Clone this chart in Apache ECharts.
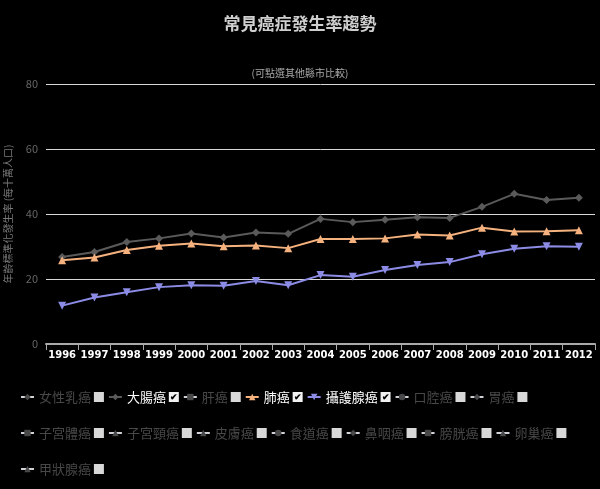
<!DOCTYPE html>
<html>
<head>
<meta charset="utf-8">
<script src="https://cdn.jsdelivr.net/npm/echarts@6/dist/echarts.min.js"></script>
<style>
html,body{margin:0;padding:0;background:#000;}
#chart{width:600px;height:489px;}
</style>
</head>
<body>
<div id="chart"></div>
<script>
var years = ['1996','1997','1998','1999','2000','2001','2002','2003','2004','2005','2006','2007','2008','2009','2010','2011','2012'];
var yTicks = [0, 20, 40, 60, 80];
var colorectal = [26.8, 28.3, 31.4, 32.5, 34.0, 32.8, 34.3, 33.9, 38.5, 37.5, 38.2, 39.0, 38.8, 42.2, 46.2, 44.3, 45.0];
var lung = [25.8, 26.6, 28.9, 30.2, 30.9, 30.1, 30.3, 29.5, 32.3, 32.3, 32.5, 33.7, 33.4, 35.8, 34.6, 34.7, 35.0];
var prostate = [11.8, 14.3, 15.9, 17.5, 18.1, 17.9, 19.4, 18.1, 21.2, 20.7, 22.8, 24.3, 25.2, 27.6, 29.3, 30.1, 29.9];
var cancerNames = ['女性乳癌','大腸癌','肝癌','肺癌','攝護腺癌','口腔癌','胃癌','子宮體癌','子宮頸癌','皮膚癌','食道癌','鼻咽癌','膀胱癌','卵巢癌','甲狀腺癌'];
var shownNames = ['大腸癌','肺癌','攝護腺癌'];

var FONT = '"Noto Sans CJK TC", "Noto Sans", sans-serif';
var seriesData = {'大腸癌': colorectal, '肺癌': lung, '攝護腺癌': prostate};
var styles = {
  '大腸癌': {color: '#5a5a5a', symbol: 'diamond', rotate: 0},
  '肺癌': {color: '#f6b27e', symbol: 'triangle', rotate: 0},
  '攝護腺癌': {color: '#8c8ce6', symbol: 'triangle', rotate: 180}
};
var symbolsCycle = ['diamond','diamond','rect','triangle','triangle','circle','diamond','rect','triangle','triangle','circle','diamond','rect','triangle','triangle'];

var series = cancerNames.map(function (n, i) {
  var st = styles[n] || {color: '#666', symbol: symbolsCycle[i], rotate: 0};
  return {
    name: n,
    type: 'line',
    data: seriesData[n] || [],
    symbol: st.symbol,
    symbolRotate: st.rotate,
    symbolSize: 8,
    color: st.color,
    lineStyle: {width: 2, color: st.color},
    itemStyle: {color: st.color},
    animation: false
  };
});

var selected = {};
cancerNames.forEach(function (n) { selected[n] = shownNames.indexOf(n) >= 0; });

var chart = echarts.init(document.getElementById('chart'));
chart.setOption({
  backgroundColor: '#000',
  animation: false,
  title: [
    {text: '常見癌症發生率趨勢', left: 'center', top: 10,
     textStyle: {color: '#cfcfcf', fontSize: 17, fontWeight: 'bold', fontFamily: FONT}},
    {text: '(可點選其他縣市比較)', left: 'center', top: 63,
     textStyle: {color: '#aaaaaa', fontSize: 10, fontWeight: 'normal', fontFamily: FONT}}
  ],
  grid: {left: 46, right: 5, top: 84, bottom: 145, outerBoundsMode: 'none', containLabel: false},
  legend: {
    data: cancerNames,
    selected: selected,
    left: 20,
    top: 381,
    width: 575,
    padding: 0,
    itemGap: 4,
    itemWidth: 13,
    itemHeight: 8,
    inactiveColor: '#484848',
    textStyle: {
      color: '#ffffff', fontSize: 13, fontFamily: FONT, lineHeight: 32,
      rich: {
        on: {backgroundColor: '#f2f2f2', color: '#000', width: 10, height: 10, fontSize: 9, align: 'center', lineHeight: 10, fontWeight: 'bold'},
        off: {backgroundColor: '#d8d8d8', width: 10, height: 10, lineHeight: 10}
      }
    },
    formatter: function (name) {
      return name + ' ' + (shownNames.indexOf(name) >= 0 ? '{on|✔}' : '{off|}');
    }
  },
  xAxis: {
    type: 'category',
    data: years,
    boundaryGap: true,
    axisLine: {lineStyle: {color: '#aaaaaa', width: 2}},
    axisTick: {show: true, length: 6, lineStyle: {color: '#aaaaaa'}},
    axisLabel: {color: '#ffffff', fontSize: 10, fontWeight: 'bold', fontFamily: '"DejaVu Sans", sans-serif', margin: 6, interval: 0}
  },
  yAxis: {
    type: 'value',
    min: yTicks[0],
    max: yTicks[yTicks.length - 1],
    interval: 20,
    name: '年齡標準化發生率 (每十萬人口)',
    nameLocation: 'middle',
    nameGap: 33,
    nameTextStyle: {color: '#777777', fontSize: 10, fontFamily: FONT},
    axisLine: {show: false},
    axisTick: {show: false},
    axisLabel: {color: '#666666', fontSize: 11, fontFamily: FONT, margin: 8},
    splitLine: {lineStyle: {color: '#d8d8d8', width: 1}}
  },
  series: series
});
</script>
</body>
</html>
